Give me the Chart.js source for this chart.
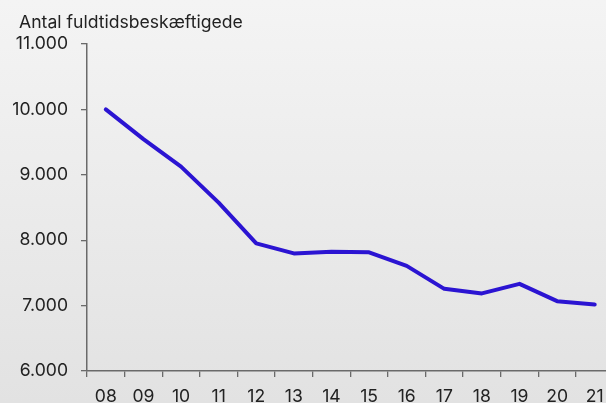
<!DOCTYPE html>
<html>
<head>
<meta charset="utf-8">
<script src="https://cdn.jsdelivr.net/npm/chart.js@4/dist/chart.umd.min.js"></script>
<style>
  html, body { margin: 0; padding: 0; overflow: hidden; }
  body { width: 606px; height: 403px; background: linear-gradient(to bottom, #f4f4f4 0%, #e2e2e2 100%); }
  #wrap { position: relative; width: 606px; height: 403px; }
</style>
</head>
<body>
<div id="wrap"><canvas id="c"></canvas></div>
<script>
const chartTitle = 'Antal fuldtidsbeskæftigede';
const categories = ['08','09','10','11','12','13','14','15','16','17','18','19','20','21'];
const employees = [10000, 9545, 9125, 8574, 7952, 7798, 7823, 7814, 7608, 7256, 7186, 7333, 7068, 7017];
const yTicks = [6000, 7000, 8000, 9000, 10000, 11000];

const FONT = 'Inter, "Liberation Sans", Arial, sans-serif';
const AXIS = '#6a6a6a';
const TEXT = '#222222';

const points = employees.map((v, i) => ({ x: i, y: v }));
const fmt = v => String(v).replace(/\B(?=(\d{3})+(?!\d))/g, '.');

const titlePlugin = {
  id: 'topTitle',
  afterDraw(chart) {
    const ctx = chart.ctx;
    ctx.save();
    ctx.font = '17.6px ' + FONT;
    ctx.fillStyle = TEXT;
    ctx.textBaseline = 'alphabetic';
    ctx.textAlign = 'left';
    ctx.fillText(chartTitle, 19, 28);
    ctx.restore();
  }
};

new Chart(document.getElementById('c'), {
  type: 'line',
  data: {
    datasets: [{
      data: points,
      borderColor: '#2b14d2',
      borderWidth: 4,
      pointRadius: 0,
      tension: 0,
      fill: false,
      borderCapStyle: 'round',
      borderJoinStyle: 'round'
    }]
  },
  options: {
    responsive: true,
    maintainAspectRatio: false,
    animation: false,
    layout: { padding: { top: 44, left: 0, right: 0, bottom: 0 } },
    plugins: { legend: { display: false }, tooltip: { enabled: false }, title: { display: false } },
    scales: {
      x: {
        type: 'linear',
        min: -0.5,
        max: 13.3,
        afterBuildTicks(scale) {
          scale.ticks = categories.map((c, i) => ({ value: i - 0.5 }));
        },
        afterFit(scale) { scale.height = 32; },
        grid: { display: true, drawOnChartArea: false, drawTicks: true, tickLength: 6, color: AXIS, lineWidth: 1.3 },
        border: { display: true, color: AXIS, width: 1.5 },
        ticks: {
          autoSkip: false, maxRotation: 0, minRotation: 0,
          labelOffset: 18.8,
          padding: 9,
          color: TEXT,
          font: { family: FONT, size: 17.6 },
          callback: (v, i) => categories[i]
        }
      },
      y: {
        type: 'linear',
        min: 6000,
        max: 11000,
        afterBuildTicks(scale) { scale.ticks = yTicks.map(v => ({ value: v })); },
        afterFit(scale) { scale.width = 87; },
        grid: { display: true, drawOnChartArea: false, drawTicks: true, tickLength: 6, color: AXIS, lineWidth: 1.3 },
        border: { display: true, color: AXIS, width: 1.5 },
        ticks: {
          padding: 13,
          color: TEXT,
          font: { family: FONT, size: 17.6 },
          callback: v => fmt(v)
        }
      }
    }
  },
  plugins: [titlePlugin]
});
</script>
</body>
</html>
